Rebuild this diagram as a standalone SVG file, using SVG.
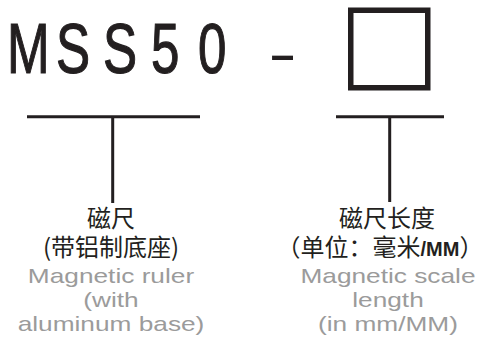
<svg xmlns="http://www.w3.org/2000/svg" width="484" height="338" viewBox="0 0 484 338">
<style>
.ink{fill:#231f20}
.cn{font-family:"Noto Sans CJK SC","Liberation Sans",sans-serif;font-size:24px;fill:#231f20;text-anchor:middle}
.en{font-family:"Liberation Sans",Arial,sans-serif;font-size:21px;fill:#9b9b9b;text-anchor:middle}
.ln{stroke:#231f20;stroke-width:3;fill:none}
</style>
<rect width="484" height="338" fill="#ffffff"/>
<g id="model">
<text class="ink" font-family="'Liberation Sans',Arial,sans-serif" font-size="71" transform="scale(0.72,1)" stroke="#231f20" stroke-width="1.2"><tspan x="9.7" y="73">M</tspan><tspan x="77.8" y="73">S</tspan><tspan x="143" y="73">S</tspan><tspan x="209.7" y="73">5</tspan><tspan x="275" y="73">0</tspan></text>
<text class="ink" font-family="'Liberation Sans',Arial,sans-serif" font-size="56" transform="translate(272,73) scale(1.53,1)" x="-2.5" y="0">-</text>
</g>
<g id="box">
<rect x="350.75" y="10.25" width="77" height="77.5" fill="none" stroke="#231f20" stroke-width="5.5"/>
</g>
<g id="connectors">
<path class="ln" d="M27 116.7H200M112.7 116.7V203"/>
<path class="ln" d="M336 116.7H444M389.7 116.7V202"/>
</g>
<g id="ruler">
<text class="cn" x="111" y="227">磁尺</text>
<text class="cn" x="111" y="256">(带铝制底座)</text>
<g transform="scale(1.25,1)">
<text class="en" x="88.8" y="283">Magnetic ruler</text>
<text class="en" x="88.8" y="307">(with</text>
<text class="en" x="88.8" y="331">aluminum base)</text>
</g>
</g>
<g id="length">
<text class="cn" x="387" y="227">磁尺长度</text>
<text class="cn" x="380" y="256">（单位：毫米<tspan font-family="'Liberation Sans',Arial,sans-serif" font-weight="bold" font-size="20">/MM</tspan>）</text>
<g transform="scale(1.25,1)">
<text class="en" x="310.4" y="283">Magnetic scale</text>
<text class="en" x="310.4" y="307">length</text>
<text class="en" x="310.4" y="331">(in mm/MM)</text>
</g>
</g>
</svg>
